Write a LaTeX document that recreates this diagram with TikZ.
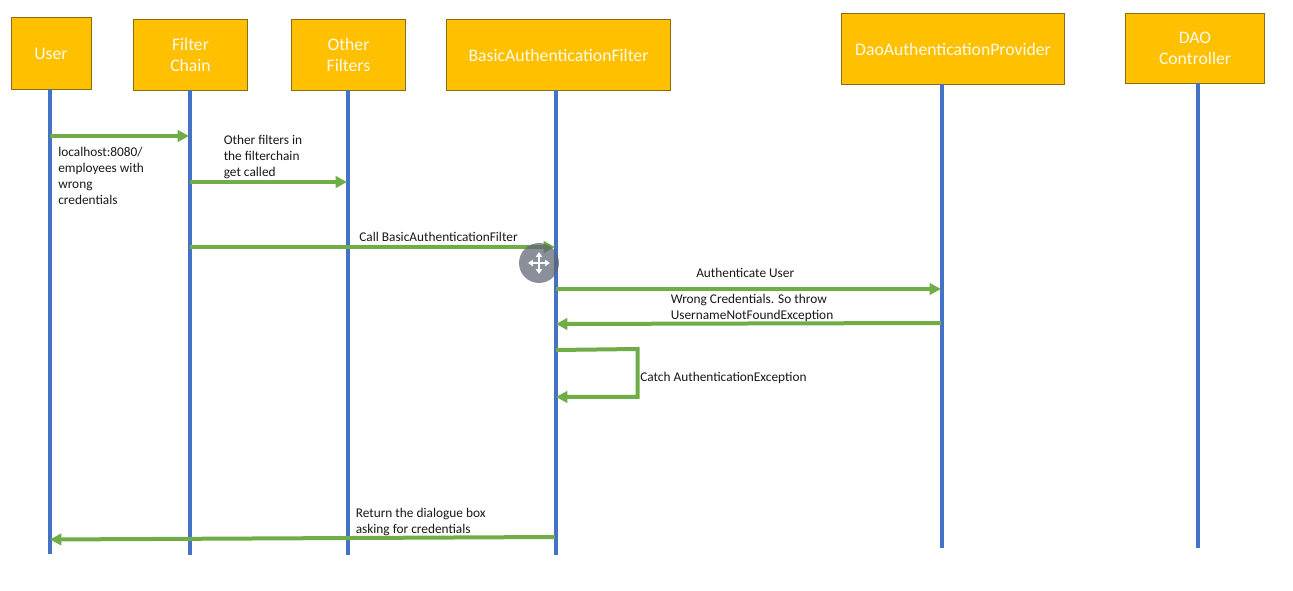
\documentclass[tikz,border=0pt]{standalone}
\usepackage{fontspec}
\setmainfont{Carlito}
\usetikzlibrary{arrows.meta}
\definecolor{boxfill}{HTML}{FFC000}
\definecolor{boxline}{HTML}{8A6D10}
\definecolor{lifeblue}{HTML}{4472C4}
\definecolor{msggreen}{HTML}{70AD47}
\tikzset{
  x=0.75pt,y=-0.75pt,
  actor/.style={draw=boxline,line width=0.75pt,fill=boxfill,text=white!92!boxfill,font=\fontsize{13.25}{16}\selectfont,align=center,anchor=north west,inner sep=0pt},
  lifeline/.style={draw=lifeblue,line width=3.4pt},
  msg/.style={draw=msggreen,line width=3pt,-{Triangle[length=8.5pt,width=8.5pt]}},
  lbl/.style={font=\fontsize{10}{12}\selectfont,align=left,anchor=west,inner sep=0pt,text=black!90},
  moveicon/.style={draw=white,line width=1.3pt,{Triangle[length=3.6pt,width=4.6pt]}-{Triangle[length=3.6pt,width=4.6pt]}}
}
\begin{document}
\begin{tikzpicture}
\useasboundingbox[fill=white] (0,0) rectangle (1293,591);
% actors
\node[actor,minimum width=60pt,minimum height=54pt] (user) at (10.5,17) {User};
\node[actor,minimum width=85.5pt,minimum height=53.25pt] (chain) at (133,19) {Filter\\Chain};
\node[actor,minimum width=85.5pt,minimum height=53.25pt] (other) at (291,19) {Other\\Filters};
\node[actor,minimum width=168pt,minimum height=53.25pt] (basic) at (446,19) {BasicAuthenticationFilter};
\node[actor,minimum width=167.25pt,minimum height=53.25pt] (dao) at (841,13.5) {DaoAuthenticationProvider};
\node[actor,minimum width=104.25pt,minimum height=52.5pt] (ctrl) at (1125,13) {DAO\\Controller};
% lifeline ends
\coordinate (ut) at (50,89);   \coordinate (ub) at (50,554);
\coordinate (ct) at (190,90);  \coordinate (cb) at (190,555);
\coordinate (ot) at (348,90);  \coordinate (ob) at (348,555);
\coordinate (bt) at (556,90);  \coordinate (bb) at (556,555);
\coordinate (dt) at (942,84);  \coordinate (db) at (942,548);
\coordinate (kt) at (1198,83); \coordinate (kb) at (1198,548);
\draw[lifeline] (ut) -- (ub);
\draw[lifeline] (ct) -- (cb);
\draw[lifeline] (ot) -- (ob);
\draw[lifeline] (bt) -- (bb);
\draw[lifeline] (dt) -- (db);
\draw[lifeline] (kt) -- (kb);
% message end points
\coordinate (m1a) at (50,136);  \coordinate (m1b) at (189,136);
\coordinate (m2a) at (190,182);   \coordinate (m2b) at (347,182);
\coordinate (m3a) at (190,247);   \coordinate (m3b) at (555,247);
\coordinate (m4a) at (556,289);   \coordinate (m4b) at (941,289);
\coordinate (m5a) at (941,323);   \coordinate (m5b) at (556,324);
\coordinate (m6a) at (556,350);   \coordinate (m6c) at (637.5,349);
\coordinate (m6d) at (637.5,397); \coordinate (m6b) at (556,397);
\coordinate (m7a) at (555,537);   \coordinate (m7b) at (50,539.5);
\draw[msg] (m1a) -- (m1b);
\draw[msg] (m2a) -- (m2b);
\draw[msg] (m3a) -- (m3b);
\draw[msg] (m4a) -- (m4b);
\draw[msg] (m5a) -- (m5b);
\draw[msg,line join=miter] (m6a) -- (m6c) -- (m6d) -- (m6b);
\draw[msg] (m7a) -- (m7b);
% labels
\node[lbl] (l1) at (58,175.5) {localhost:8080/\\employees with\\wrong\\credentials};
\node[lbl] (l2) at (223.5,157.5) {Other filters in\\the filterchain\\get called};
\node[lbl] (l3) at (359,237) {Call BasicAuthenticationFilter};
\node[lbl] (l4) at (696,273) {Authenticate User};
\node[lbl] (l5) at (670.5,307.5) {Wrong Credentials. So throw\\UsernameNotFoundException};
\node[lbl] (l6) at (640,377.5) {Catch AuthenticationException};
\node[lbl] (l7) at (355.5,522) {Return the dialogue box\\asking for credentials};
% move handle overlay
\fill[black!55!lifeblue!35!gray,opacity=0.72] (539,263) circle[radius=20];
\coordinate (hl) at (528,263); \coordinate (hr) at (550,263);
\coordinate (ht) at (539,252); \coordinate (hb) at (539,274);
\draw[moveicon] (hl) -- (hr);
\draw[moveicon] (ht) -- (hb);
\end{tikzpicture}
\end{document}
